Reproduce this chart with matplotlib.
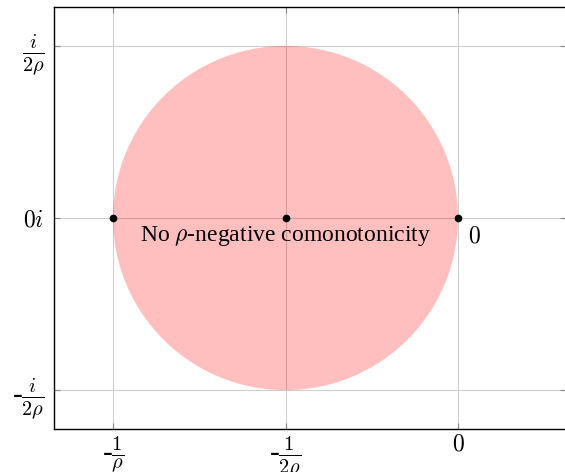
import numpy as np
import matplotlib
matplotlib.use('Agg')
from matplotlib import pyplot as plt
from matplotlib.patches import Circle

plt.rcParams['font.family'] = ['Liberation Serif', 'DejaVu Serif']
plt.rcParams['mathtext.fontset'] = 'cm'

x_ticks = [-1.0, -0.5, 0.0]
x_labels = ['-$\\frac{1}{\\rho}$', '-$\\frac{1}{2\\rho}$', '$0$']
y_ticks = [-0.5, 0.0, 0.5]
y_labels = ['-$\\frac{i}{2\\rho}$', '$0i$', '$\\frac{i}{2\\rho}$']

circle_center = (-0.5, 0.0)
circle_radius = 0.5

points_x = [-1.0, -0.5, 0.0]
points_y = [0.0, 0.0, 0.0]

region_label = 'No $\\rho$-negative comonotonicity'


def main():
    fig = plt.figure(figsize=(5.65, 4.72), dpi=100)
    ax = fig.add_axes([54 / 565, 1 - 429 / 472, 512 / 565, 422 / 472])

    ax.add_patch(Circle(circle_center, circle_radius, facecolor='red',
                        alpha=0.25, edgecolor='none', zorder=2))
    ax.plot(points_x, points_y, 'o', color='black', markersize=4.5, zorder=3)

    ax.text(-0.5, -0.052, region_label, ha='center', va='center', fontsize=17)
    ax.text(0.03, -0.055, '$0$', ha='left', va='center', fontsize=17)

    ax.set_xlim(-1.171, 0.313)
    ax.set_ylim(-0.613, 0.613)
    ax.set_xticks(x_ticks)
    ax.set_xticklabels(x_labels)
    ax.set_yticks(y_ticks)
    ax.set_yticklabels(y_labels)
    for lab in ax.get_xticklabels() + ax.get_yticklabels():
        lab.set_fontsize(17 if '0' in lab.get_text() else 21)

    ax.grid(True, color='#cfcfcf', linewidth=0.8, zorder=1)
    ax.set_axisbelow(True)
    ax.tick_params(direction='in', length=4, color='#888888', width=0.8,
                   top=True, right=True)
    ax.tick_params(axis='x', pad=4)
    ax.tick_params(axis='y', pad=7)
    for s in ax.spines.values():
        s.set_linewidth(1.0)

    fig.savefig('out.png', dpi=100)


if __name__ == '__main__':
    main()
